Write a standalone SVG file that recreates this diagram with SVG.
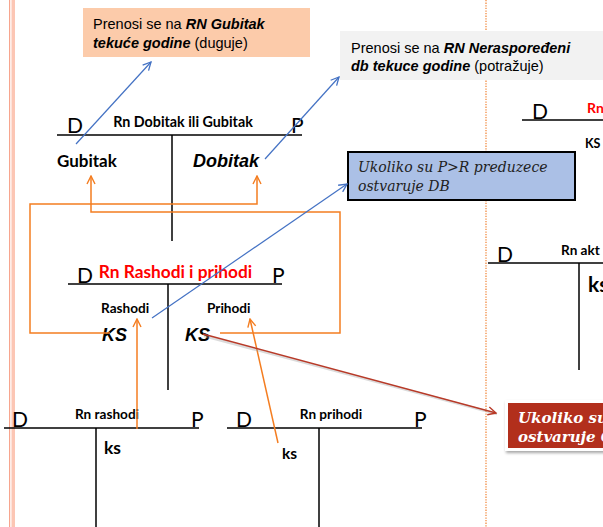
<svg xmlns="http://www.w3.org/2000/svg" width="603" height="527" viewBox="0 0 603 527">
<defs>
<style>
.ln{stroke:#000;stroke-width:1.5;fill:none}
.or{stroke:#f47d20;stroke-width:1.5;fill:none}
.bl{stroke:#4472c4;stroke-width:1.2;fill:none}
.cal{font-family:Lato,"Liberation Sans",sans-serif;fill:#000}
.b{font-weight:bold}
.ar{font-family:"Liberation Sans",Arial,sans-serif}
.dp{font-family:Lato,"Liberation Sans",sans-serif;font-size:21px;fill:#000}
.ser{font-family:"DejaVu Serif","Liberation Serif",serif;font-style:italic}
</style>
<marker id="mo" viewBox="0 0 10 10" refX="9" refY="5" markerWidth="10" markerHeight="10" markerUnits="userSpaceOnUse" orient="auto"><path d="M1,1 L9,5 L1,9" fill="none" stroke="#f47d20" stroke-width="1.4"/></marker>
<marker id="mb" viewBox="0 0 10 10" refX="9" refY="5" markerWidth="10" markerHeight="10" markerUnits="userSpaceOnUse" orient="auto"><path d="M1,1 L9,5 L1,9" fill="none" stroke="#4472c4" stroke-width="1.3"/></marker>
<marker id="mr" viewBox="0 0 10 10" refX="9" refY="5" markerWidth="10" markerHeight="10" markerUnits="userSpaceOnUse" orient="auto"><path d="M1,1 L9,5 L1,9" fill="none" stroke="#b83a28" stroke-width="1.4"/></marker>
<filter id="sh" x="-20%" y="-20%" width="140%" height="150%"><feDropShadow dx="1" dy="2" stdDeviation="1.5" flood-color="#000" flood-opacity="0.35"/></filter>
</defs>

<rect width="603" height="527" fill="#fff"/>
<!-- page decoration -->
<rect x="9" y="0" width="1.2" height="527" fill="#f7a58e"/>
<rect x="11.5" y="0" width="3.5" height="527" fill="#fcc6b4"/>
<line x1="486" y1="0" x2="486" y2="527" stroke="#f08030" stroke-width="1.2" stroke-dasharray="1.3,1.3"/>

<!-- note boxes -->
<g id="note-gubitak">
<rect x="83" y="8" width="227" height="49" fill="#fccbaa"/>
<text x="93" y="29" class="ar" font-size="14.5" fill="#000">Prenosi se na <tspan font-weight="bold" font-style="italic">RN Gubitak</tspan></text>
<text x="93" y="48" class="ar" font-size="14.5" fill="#000"><tspan font-weight="bold" font-style="italic">tekuće godine</tspan> (duguje)</text>
</g>
<g id="note-nerasporedjeni">
<rect x="340" y="31" width="263" height="49" fill="#f2f2f2"/>
<text x="351" y="53" class="ar" font-size="14.5" fill="#000">Prenosi se na <tspan font-weight="bold" font-style="italic">RN Neraspoređeni</tspan></text>
<text x="351" y="71" class="ar" font-size="14.5" fill="#000"><tspan font-weight="bold" font-style="italic">db tekuce godine</tspan> (potražuje)</text>
</g>
<g id="note-db">
<rect x="348" y="152" width="227" height="48" fill="#abc0e6" stroke="#000" stroke-width="2"/>
<text x="358" y="172" class="ser" font-size="14" fill="#222">Ukoliko su P&gt;R preduzece</text>
<text x="358" y="191" class="ser" font-size="14" fill="#222">ostvaruje DB</text>
</g>
<g id="note-gb">
<rect x="505" y="400" width="110" height="51" fill="#fff" filter="url(#sh)"/>
<rect x="508" y="403" width="110" height="45" fill="#b22f1c"/>
<text x="518" y="423" class="ser" font-weight="bold" font-size="15" fill="#fff">Ukoliko su</text>
<text x="518" y="442" class="ser" font-weight="bold" font-size="15" fill="#fff">ostvaruje G</text>
</g>

<!-- T accounts -->
<g id="t-dobitak-gubitak">
<line x1="57" y1="135" x2="302" y2="135" class="ln"/>
<line x1="172" y1="135" x2="172" y2="241" class="ln"/>
<text x="67" y="133" class="dp">D</text>
<text x="291" y="133" class="dp">P</text>
<text x="183" y="127" class="cal b" font-size="14.3" text-anchor="middle">Rn Dobitak ili Gubitak</text>
<text x="57" y="167" class="cal b" font-size="17">Gubitak</text>
<text x="193" y="167" class="ar" font-weight="bold" font-style="italic" font-size="18">Dobitak</text>
</g>
<g id="t-rashodi-prihodi">
<line x1="68" y1="284" x2="282" y2="284" class="ln"/>
<line x1="168" y1="284" x2="168" y2="390" class="ln"/>
<text x="77" y="283" class="dp">D</text>
<text x="272" y="283" class="dp">P</text>
<text x="175.5" y="278" class="cal b" font-size="17.3" style="fill:#f00" text-anchor="middle">Rn Rashodi i prihodi</text>
<text x="101" y="313" class="cal b" font-size="13.6">Rashodi</text>
<text x="207" y="313" class="cal b" font-size="13.6">Prihodi</text>
<text x="102" y="341" class="ar" font-weight="bold" font-style="italic" font-size="18">KS</text>
<text x="185" y="341" class="ar" font-weight="bold" font-style="italic" font-size="18">KS</text>
</g>
<g id="t-rashodi">
<line x1="4" y1="428" x2="199" y2="428" class="ln"/>
<line x1="96" y1="428" x2="96" y2="527" class="ln"/>
<text x="12" y="427" class="dp">D</text>
<text x="191" y="427" class="dp">P</text>
<text x="107" y="419" class="cal b" font-size="13.6" text-anchor="middle">Rn rashodi</text>
<text x="104" y="454" class="cal b" font-size="17.5">ks</text>
</g>
<g id="t-prihodi">
<line x1="227" y1="428" x2="422" y2="428" class="ln"/>
<line x1="319" y1="428" x2="319" y2="527" class="ln"/>
<text x="236" y="427" class="dp">D</text>
<text x="414" y="427" class="dp">P</text>
<text x="331" y="419" class="cal b" font-size="13.6" text-anchor="middle">Rn prihodi</text>
<text x="282" y="459" class="cal b" font-size="15.5">ks</text>
</g>
<g id="t-right-top">
<line x1="522" y1="120" x2="603" y2="120" class="ln"/>
<text x="532" y="119" class="dp">D</text>
<text x="587" y="113" class="cal b" font-size="14" style="fill:#f00">Rn</text>
<text x="585" y="148" class="cal b" font-size="12.5">KS</text>
</g>
<g id="t-right-mid">
<line x1="488" y1="263" x2="603" y2="263" class="ln"/>
<line x1="579" y1="263" x2="579" y2="370" class="ln"/>
<text x="497" y="262" class="dp">D</text>
<text x="561" y="255" class="cal b" font-size="13.6">Rn akt</text>
<text x="588" y="292" class="cal b" font-size="21">ks</text>
</g>

<!-- connectors -->
<g id="connectors">
<path d="M110,333 H30 V204 H257 V176" class="or" marker-end="url(#mo)"/>
<path d="M220,333 H340 V212 H91 V176" class="or" marker-end="url(#mo)"/>
<path d="M137,429 V319" class="or" marker-end="url(#mo)"/>
<path d="M278,443 L250,319" class="or" marker-end="url(#mo)"/>
<path d="M76,144 L151,62" class="bl" marker-end="url(#mb)"/>
<path d="M265,159 L339,77" class="bl" marker-end="url(#mb)"/>
<path d="M152,318 L347,184" class="bl" marker-end="url(#mb)"/>
<path d="M204,336 L497,414" stroke="#999" stroke-opacity="0.35" stroke-width="2.5" fill="none"/>
<path d="M203,334 L496,413" stroke="#b83a28" stroke-width="1.4" fill="none" marker-end="url(#mr)"/>
</g>
</svg>
